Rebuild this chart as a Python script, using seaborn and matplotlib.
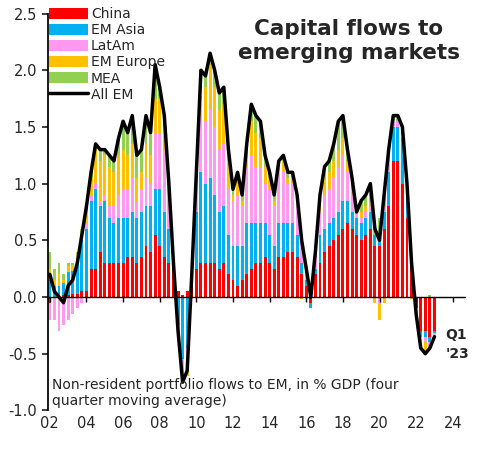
import numpy as np
import matplotlib
matplotlib.use("Agg")
import matplotlib.pyplot as plt
import seaborn as sns

# quarterly data, 2002Q1 .. 2023Q1 (% of GDP, 4q moving average)
china = [-0.05, 0, 0.0, 0.02, 0.02, 0.03, 0.03, 0.05, 0.05, 0.25, 0.25, 0.4,
         0.3, 0.3, 0.3, 0.3, 0.3, 0.35, 0.35, 0.3, 0.35, 0.45, 0.4, 0.55,
         0.45, 0.35, 0.3, 0.25, 0.05, 0.02, 0.05, 0.1, 0.25, 0.3, 0.3, 0.3,
         0.3, 0.25, 0.3, 0.2, 0.15, 0.1, 0.15, 0.2, 0.25, 0.3, 0.3, 0.35,
         0.3, 0.25, 0.35, 0.35, 0.4, 0.4, 0.35, 0.2, 0.1, -0.05, 0.2, 0.3,
         0.4, 0.45, 0.5, 0.55, 0.6, 0.65, 0.6, 0.55, 0.5, 0.55, 0.6, 0.45,
         0.45, 0.6, 0.8, 1.2, 1.2, 1.0, 0.7, 0.3, -0.1, -0.3, -0.3, -0.35, -0.3]
em_asia = [0.15, 0.1, 0.1, 0.1, 0.2, 0.2, 0.3, 0.45, 0.55, 0.6, 0.7, 0.4,
           0.55, 0.4, 0.35, 0.4, 0.4, 0.35, 0.4, 0.4, 0.4, 0.35, 0.4, 0.4,
           0.5, 0.4, 0.3, 0.0, -0.25, -0.55, -0.45, 0.05, 0.5, 0.8, 0.7, 0.75,
           0.6, 0.5, 0.5, 0.35, 0.3, 0.35, 0.3, 0.45, 0.4, 0.35, 0.35, 0.3,
           0.25, 0.2, 0.3, 0.3, 0.25, 0.25, 0.2, 0.1, 0.05, -0.05, 0.05, 0.25,
           0.2, 0.2, 0.2, 0.2, 0.25, 0.2, 0.15, 0.15, 0.15, 0.15, 0.15, 0.1,
           0.1, 0.15, 0.3, 0.3, 0.3, 0.4, 0.25, 0.0, 0, -0.05, -0.05, -0.05, -0.02]
latam = [-0.15, -0.2, -0.3, -0.25, -0.2, -0.15, -0.1, -0.05, 0.05, 0.05, 0.05, 0.05,
         0.05, 0.1, 0.15, 0.2, 0.25, 0.25, 0.3, 0.15, 0.2, 0.25, 0.2, 0.5,
         0.5, 0.55, 0.3, 0.05, -0.05, -0.1, -0.1, 0.02, 0.2, 0.5, 0.55, 0.6,
         0.6, 0.55, 0.55, 0.4, 0.4, 0.45, 0.35, 0.5, 0.6, 0.5, 0.5, 0.35,
         0.4, 0.35, 0.45, 0.45, 0.35, 0.35, 0.3, 0.2, 0.1, 0.05, 0.1, 0.2,
         0.3, 0.3, 0.35, 0.4, 0.4, 0.25, 0.15, 0.05, 0.05, 0.05, 0.05, 0.0,
         -0.05, 0.05, 0.1, 0.05, 0.05, 0.05, 0.0, 0.0, -0.02, -0.05, -0.05, -0.02, -0.03]
em_europe = [0.1, 0.05, 0.1, 0.03, 0.05, 0.05, 0.05, 0.08, 0.1, 0.15, 0.3, 0.35,
             0.35, 0.35, 0.3, 0.35, 0.35, 0.3, 0.3, 0.2, 0.15, 0.3, 0.25, 0.3,
             0.3, 0.25, 0.1, 0.0, -0.03, -0.1, -0.15, 0.03, 0.1, 0.3, 0.3, 0.4,
             0.35, 0.35, 0.35, 0.25, 0.05, 0.15, 0.05, 0.15, 0.3, 0.3, 0.25, 0.15,
             0.1, 0.05, 0.05, 0.1, 0.05, 0.05, 0.0, -0.02, -0.02, 0.02, 0.03, 0.1,
             0.15, 0.15, 0.15, 0.15, 0.15, 0.1, 0.05, 0.0, 0.05, 0.05, 0.05, -0.05,
             -0.15, -0.05, 0.0, 0.0, 0.0, 0.0, 0.0, -0.02, -0.03, -0.05, -0.1, -0.05, 0.0]
mea = [0.15, 0.1, 0.1, 0.05, 0.03, 0.02, 0.02, 0.02, 0.05, 0.05, 0.05, 0.1,
       0.05, 0.1, 0.1, 0.15, 0.25, 0.2, 0.25, 0.2, 0.2, 0.25, 0.2, 0.3,
       0.1, 0.05, 0.0, 0.0, -0.02, -0.02, 0.0, 0.0, 0.05, 0.1, 0.1, 0.1,
       0.15, 0.15, 0.15, 0.1, 0.05, 0.05, 0.05, 0.05, 0.15, 0.15, 0.15, 0.1,
       0.05, 0.05, 0.05, 0.05, 0.05, 0.05, 0.05, 0.02, 0.02, 0.03, 0.02, 0.05,
       0.1, 0.1, 0.15, 0.25, 0.2, 0.1, 0.1, 0.0, 0.1, 0.1, 0.15, 0.1,
       0.15, 0.15, 0.1, 0.05, 0.05, 0.05, 0.05, 0.02, 0, 0, 0, 0.02, 0.0]
all_em = [0.2, 0.05, 0.0, -0.05, 0.1, 0.15, 0.3, 0.55, 0.8, 1.1, 1.35, 1.3,
          1.3, 1.25, 1.2, 1.4, 1.55, 1.45, 1.6, 1.25, 1.3, 1.6, 1.45, 2.05,
          1.85, 1.6, 1.0, 0.3, -0.3, -0.75, -0.65, 0.2, 1.1, 2.0, 1.95, 2.15,
          2.0, 1.8, 1.85, 1.3, 0.95, 1.1, 0.9, 1.35, 1.7, 1.6, 1.55, 1.25,
          1.1, 0.9, 1.2, 1.25, 1.1, 1.1, 0.9, 0.5, 0.25, 0.0, 0.4, 0.9,
          1.15, 1.2, 1.35, 1.55, 1.6, 1.3, 1.05, 0.75, 0.85, 0.9, 1.0, 0.6,
          0.5, 0.9, 1.3, 1.6, 1.6, 1.5, 1.0, 0.3, -0.15, -0.45, -0.5, -0.45, -0.35]

series = [("China", china, "#FF0000"), ("EM Asia", em_asia, "#00B0F0"),
          ("LatAm", latam, "#FF99F0"), ("EM Europe", em_europe, "#FFC000"),
          ("MEA", mea, "#92D050")]

sns.set_theme(style="white")
plt.rcParams["font.family"] = ["DejaVu Sans"]

t = 2002 + np.arange(len(all_em)) * 0.25
fig = plt.figure(figsize=(4.8, 4.51), dpi=100)
ax = fig.add_axes([0.1, 0.09, 0.87, 0.88])

pos_base = np.zeros(len(t))
neg_base = np.zeros(len(t))
handles = []
for name, vals, col in series:
    v = np.array(vals)
    bottom = np.where(v >= 0, pos_base, neg_base)
    h = ax.bar(t, v, width=0.16, bottom=bottom, color=col, label=name, linewidth=0)
    handles.append(h)
    pos_base += np.where(v >= 0, v, 0)
    neg_base += np.where(v < 0, v, 0)

line, = ax.plot(t, all_em, color="black", lw=2.5, label="All EM")
handles.append(line)
ax.axhline(0, color="black", lw=1)
years = np.arange(2002, 2025, 2)
ax.vlines(years, -0.04, 0, color="black", lw=1)

ax.set_xlim(2001.9, 2024.7)
ax.set_ylim(-1.0, 2.5)
ax.set_xticks(years)
ax.set_xticklabels([f"{y % 100:02d}" for y in years])
ax.set_yticks(np.arange(-1.0, 2.51, 0.5))
ax.set_yticklabels([f"{v:.1f}" for v in np.arange(-1.0, 2.51, 0.5)])
ax.tick_params(labelsize=10.5, length=0, pad=4)
ax.tick_params(axis="y", length=4, direction="out", left=True)
for s in ["top", "right", "bottom"]:
    ax.spines[s].set_visible(False)
ax.spines["left"].set_color("black")

ax.legend(handles=handles, labels=[s[0] for s in series] + ["All EM"],
          loc="upper left", bbox_to_anchor=(-0.01, 1.03), frameon=False,
          fontsize=10, handlelength=2.8, handleheight=0.9, labelspacing=0.15,
          borderaxespad=0, handletextpad=0.2)
ax.text(0.72, 0.985, "Capital flows to\nemerging markets", transform=ax.transAxes,
        ha="center", va="top", fontsize=15.5, fontweight="bold", linespacing=1.2)
ax.text(2023.6, -0.42, "Q1\n'23", fontsize=10, fontweight="bold", va="center",
        linespacing=1.5)
ax.text(0.01, 0.005, "Non-resident portfolio flows to EM, in % GDP (four\nquarter moving average)",
        transform=ax.transAxes, fontsize=10, va="bottom", ha="left")

fig.savefig("out.png", dpi=100)
